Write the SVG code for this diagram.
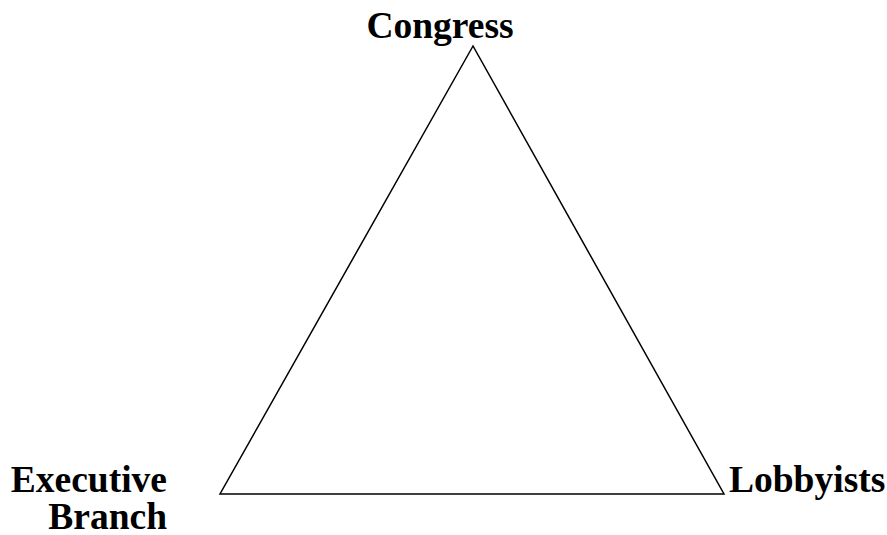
<svg xmlns="http://www.w3.org/2000/svg" width="887" height="535" viewBox="0 0 887 535">
<style>
.lbl{font-family:"Liberation Serif","Times New Roman",serif;font-weight:bold;font-size:37.5px;fill:#000}
.edge{fill:none;stroke:#000;stroke-width:1.5}
</style>
<rect width="887" height="535" fill="#fff"/>
<g id="connectors">
<polygon class="edge" points="473,46 220,494 724,494"/>
</g>
<g id="congress"><text class="lbl" x="440" y="38" text-anchor="middle">Congress</text></g>
<g id="executive"><text class="lbl" text-anchor="end"><tspan x="167" y="492">Executive</tspan><tspan x="167" y="529">Branch</tspan></text></g>
<g id="lobbyists"><text class="lbl" x="729" y="492">Lobbyists</text></g>
</svg>
